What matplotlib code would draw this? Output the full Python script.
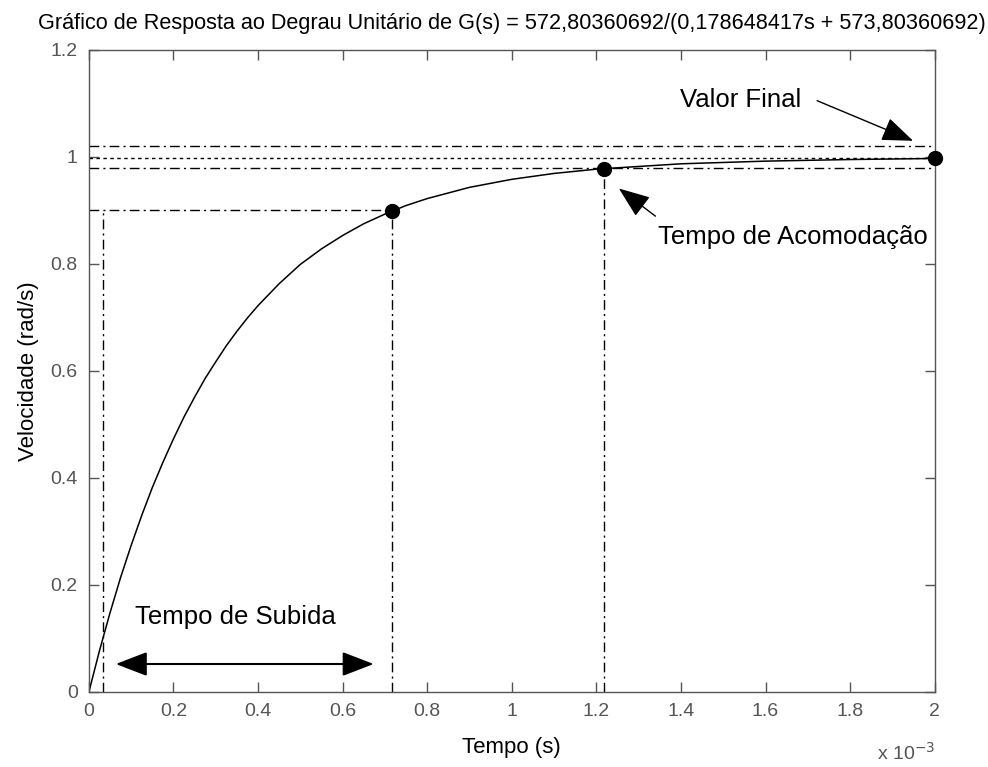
import matplotlib
matplotlib.use("Agg")
import matplotlib.pyplot as plt
from matplotlib.patches import FancyArrowPatch

plt.rcParams['font.family'] = ['Liberation Sans', 'DejaVu Sans']

# step response (time in ms)
t_ms = [0, 0.025, 0.05, 0.075, 0.1, 0.125, 0.15, 0.175, 0.2, 0.225, 0.25, 0.275,
        0.3, 0.325, 0.35, 0.375, 0.4, 0.45, 0.5, 0.55, 0.6, 0.65, 0.7, 0.75,
        0.8, 0.9, 1.0, 1.1, 1.2, 1.4, 1.6, 1.8, 2.0]
vel = [0, 0.077, 0.148, 0.214, 0.274, 0.330, 0.382, 0.429, 0.473, 0.514, 0.551, 0.586,
       0.617, 0.647, 0.674, 0.699, 0.722, 0.763, 0.799, 0.828, 0.853, 0.875, 0.893, 0.909,
       0.922, 0.943, 0.958, 0.969, 0.977, 0.987, 0.992, 0.995, 0.997]

final_value = 0.998
band = [0.98, 1.02]
t_rise = [0.033, 0.717]     # 10% and 90% times (ms)
y_rise = [0.1, 0.9]
t_settle = 1.217
y_settle = 0.978
pts_t = [0.717, 1.217, 2.0]
pts_y = [0.898, 0.978, 0.998]

xticks = [0, 0.2, 0.4, 0.6, 0.8, 1, 1.2, 1.4, 1.6, 1.8, 2]
yticks = [0, 0.2, 0.4, 0.6, 0.8, 1, 1.2]

grey = '#555555'
dashdot = (0, (7, 3, 1.5, 3))

fig = plt.figure(figsize=(9.88, 7.67), dpi=100)
ax = fig.add_axes([0.090, 0.098, 0.856, 0.837])

ax.plot(t_ms, vel, color='black', lw=1.1)

# tolerance band and final value
for yb in band:
    ax.plot([0, 2], [yb, yb], color='black', lw=1, ls=dashdot)
ax.plot([0, 2], [final_value, final_value], color='black', lw=1, ls=(0, (2.5, 2.5)))

# rise time guides
ax.plot([0, t_rise[1]], [y_rise[1], y_rise[1]], color='black', lw=1, ls=dashdot)
ax.plot([t_rise[0], t_rise[0]], [0, y_rise[1]], color='black', lw=1, ls=dashdot)
ax.plot([t_rise[1], t_rise[1]], [0, y_rise[1]], color='black', lw=1, ls=dashdot)
# settling time guide
ax.plot([t_settle, t_settle], [0, y_settle], color='black', lw=1, ls=dashdot)

ax.plot(pts_t, pts_y, 'o', color='black', ms=10, clip_on=False, zorder=5)

# annotations
head = 'head_length=1.3,head_width=0.5'
ax.add_patch(FancyArrowPatch((0.057, 0.052), (0.68, 0.052), arrowstyle='<|-|>,' + head,
                             color='black', lw=1.5, mutation_scale=15))
ax.text(0.11, 0.14, 'Tempo de Subida', fontsize=18.5, va='center', ha='left')

ax.text(1.397, 1.107, 'Valor Final', fontsize=18.5, va='center', ha='left')
ax.add_patch(FancyArrowPatch((1.716, 1.107), (1.955, 1.028), arrowstyle='-|>,' + head,
                             color='black', lw=1, mutation_scale=15))

ax.text(1.345, 0.85, 'Tempo de Acomodação', fontsize=18.5, va='center', ha='left')
ax.add_patch(FancyArrowPatch((1.345, 0.886), (1.248, 0.944), arrowstyle='-|>,' + head,
                             color='black', lw=1, mutation_scale=15))

ax.set_xlim(0, 2)
ax.set_ylim(0, 1.2)
ax.set_xticks(xticks)
ax.set_xticklabels(['0', '0.2', '0.4', '0.6', '0.8', '1', '1.2', '1.4', '1.6', '1.8', '2'])
ax.set_yticks(yticks)
ax.set_yticklabels(['0', '0.2', '0.4', '0.6', '0.8', '1', '1.2'])
ax.tick_params(direction='in', top=True, right=True, length=7, width=1, colors=grey,
               labelsize=14, labelcolor=grey, pad=8)
for s in ax.spines.values():
    s.set_color(grey)
    s.set_linewidth(1)

ax.set_xlabel('Tempo (s)', fontsize=16, labelpad=12)
ax.set_ylabel('Velocidade (rad/s)', fontsize=16, labelpad=8)
ax.set_title('Gráfico de Resposta ao Degrau Unitário de G(s) = 572,80360692/(0,178648417s + 573,80360692)',
             fontsize=15.6, pad=15)
fig.text(0.888, 0.004, r'x 10$^{-3}$', fontsize=14, color=grey, ha='left', va='bottom')

fig.savefig('out.png', dpi=100, facecolor='white')
